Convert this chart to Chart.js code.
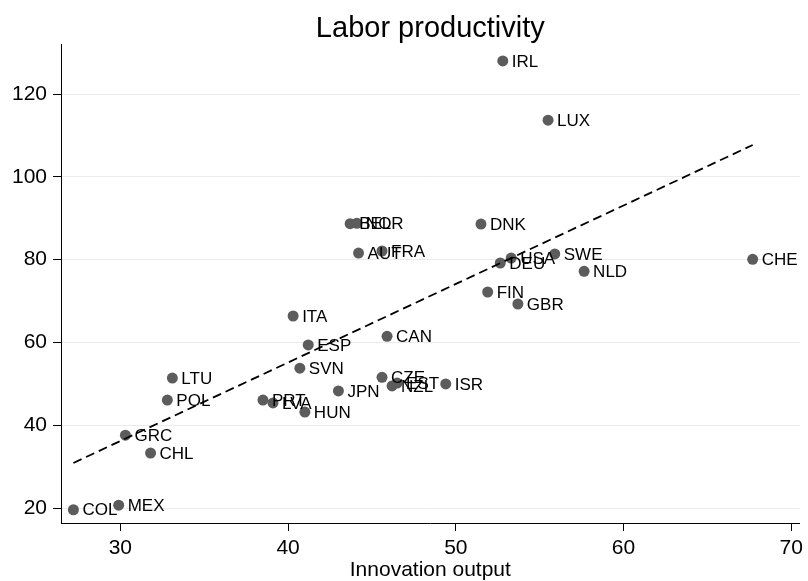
<!DOCTYPE html>
<html>
<head>
<meta charset="utf-8">
<script src="https://cdn.jsdelivr.net/npm/chart.js@4/dist/chart.umd.min.js"></script>
<style>
  html, body { margin: 0; padding: 0; background: #fff; }
  #wrap { width: 808px; height: 581px; }
</style>
</head>
<body>
<div id="wrap"><canvas id="c" width="808" height="581"></canvas></div>
<script>
// Country codes with innovation output (x) and labor productivity (y)
const countries = ['IRL','LUX','CHE','BEL','NOR','DNK','AUT','FRA','DEU','USA','SWE','NLD','FIN','GBR',
                   'ITA','CAN','ESP','SVN','LTU','POL','JPN','CZE','NZL','EST','ISR','PRT','LVA','HUN',
                   'GRC','CHL','MEX','COL'];
const innovation = [52.8, 55.5, 67.7, 43.7, 44.1, 51.5, 44.2, 45.6, 52.65, 53.3, 55.9, 57.65, 51.9, 53.7,
                    40.3, 45.9, 41.2, 40.7, 33.1, 32.8, 43.0, 45.6, 46.2, 46.5, 49.4, 38.5, 39.1, 41.0,
                    30.3, 31.8, 29.9, 27.2];
const productivity = [128.0, 113.7, 80.1, 88.7, 88.8, 88.6, 81.6, 82.1, 79.2, 80.4, 81.4, 77.2, 72.2, 69.3,
                      66.4, 61.5, 59.4, 53.8, 51.4, 46.1, 48.3, 51.6, 49.5, 50.2, 50.0, 46.1, 45.4, 43.2,
                      37.6, 33.3, 20.7, 19.6];

// Linear fit line end points
const fitInnovation = [27.2, 67.7];
const fitProductivity = [30.9, 107.7];

// Axis ticks
const xTicks = [30, 40, 50, 60, 70];
const yTicks = [20, 40, 60, 80, 100, 120];

const FONT = '"Liberation Sans", Arial, Helvetica, sans-serif';

const pointLabels = {
  id: 'pointLabels',
  afterDatasetsDraw(chart) {
    const meta = chart.getDatasetMeta(1);
    const ctx = chart.ctx;
    ctx.save();
    ctx.font = '17px ' + FONT;
    ctx.fillStyle = '#000';
    ctx.textAlign = 'left';
    ctx.textBaseline = 'middle';
    meta.data.forEach((pt, i) => {
      ctx.fillText(countries[i], pt.x + 9, pt.y + 1);
    });
    ctx.restore();
  }
};

const plotTitle = {
  id: 'plotTitle',
  afterDraw(chart) {
    const ctx = chart.ctx;
    const a = chart.chartArea;
    ctx.save();
    ctx.font = '29px ' + FONT;
    ctx.fillStyle = '#000';
    ctx.textAlign = 'center';
    ctx.textBaseline = 'alphabetic';
    ctx.fillText('Labor productivity', (a.left + a.right) / 2, 37);
    ctx.restore();
  }
};

new Chart(document.getElementById('c'), {
  type: 'scatter',
  data: {
    datasets: [
      {
        data: fitInnovation.map((x, i) => ({ x: x, y: fitProductivity[i] })),
        showLine: true,
        borderColor: '#000',
        borderWidth: 1.8,
        borderDash: [9, 5],
        pointRadius: 0,
        fill: false,
        order: 0
      },
      {
        data: innovation.map((x, i) => ({ x: x, y: productivity[i] })),
        backgroundColor: '#5c5c5c',
        borderColor: '#5c5c5c',
        borderWidth: 0,
        pointRadius: 5.5,
        order: 1
      }
    ]
  },
  options: {
    responsive: false,
    animation: false,
    devicePixelRatio: 1,
    layout: { padding: { top: 44, right: 0, bottom: 0, left: 0 } },
    plugins: {
      legend: { display: false },
      tooltip: { enabled: false },
      title: { display: false }
    },
    scales: {
      x: {
        type: 'linear',
        min: 26.46,
        max: 70.5,
        afterBuildTicks: s => { s.ticks = xTicks.map(v => ({ value: v })); },
        afterFit: s => { s.height = 58; },
        grid: { drawOnChartArea: false, drawTicks: true, tickLength: 8, tickColor: '#000' },
        border: { display: true, color: '#000', width: 1 },
        ticks: { color: '#000', font: { family: FONT, size: 21 }, padding: 5, maxRotation: 0 },
        title: {
          display: true,
          text: 'Innovation output',
          color: '#000',
          font: { family: FONT, size: 21, lineHeight: 1.0 },
          padding: { top: 0, bottom: 0 }
        }
      },
      y: {
        type: 'linear',
        min: 16.4,
        max: 132.1,
        afterBuildTicks: s => { s.ticks = yTicks.map(v => ({ value: v })); },
        afterFit: s => { s.width = 61; },
        grid: { color: '#ebebeb', lineWidth: 1, tickColor: '#000', tickLength: 8 },
        border: { display: true, color: '#000', width: 1 },
        ticks: { color: '#000', font: { family: FONT, size: 21 }, padding: 6 }
      }
    }
  },
  plugins: [pointLabels, plotTitle]
});
</script>
</body>
</html>
